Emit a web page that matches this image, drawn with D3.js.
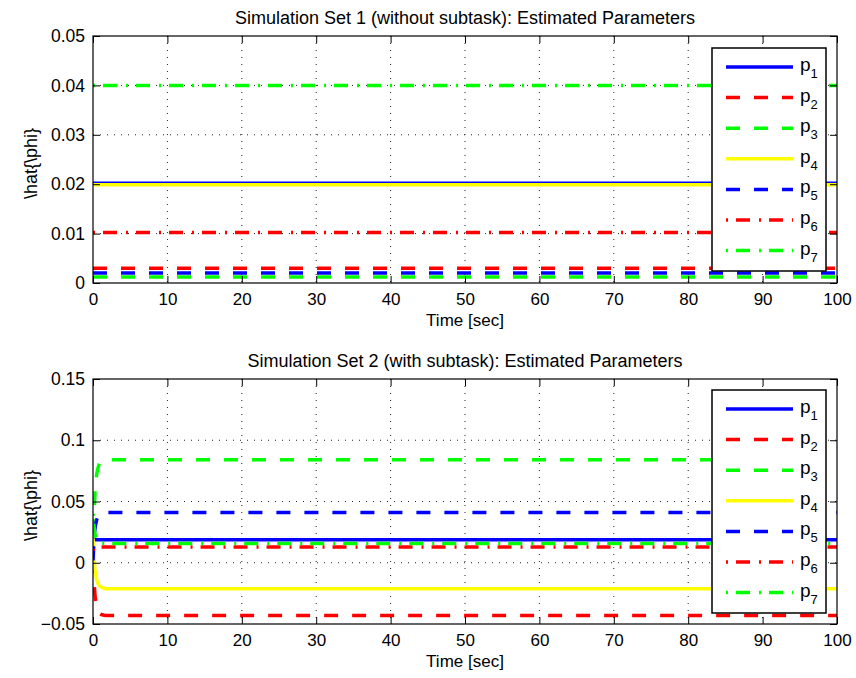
<!DOCTYPE html>
<html><head><meta charset="utf-8">
<script src="https://cdn.jsdelivr.net/npm/d3@7"></script>
<style>body{margin:0;background:#fff;} text{font-family:"Liberation Sans",Arial,sans-serif;}</style>
</head><body><svg id="c" width="856" height="678"></svg>
<script>
// ---- data ----
const seriesNames = ["1","2","3","4","5","6","7"];
const seriesColors = ["#0000ff","#ff0000","#00ff00","#ffff00","#0000ff","#ff0000","#00ff00"];
const seriesStyles = ["solid","dash","dash","solid","dash","dashdot","dashdot"];
const xTicks = [0,10,20,30,40,50,60,70,80,90,100];
const yTicks1 = [0,0.01,0.02,0.03,0.04,0.05];
const yTicks2 = [-0.05,0,0.05,0.1,0.15];
// Plot 1: parameter estimates stay constant
const time1 = [0,100];
const p1_set1 = [0.0202,0.0202];
const p2_set1 = [0.0030,0.0030];
const p3_set1 = [0.0012,0.0012];
const p4_set1 = [0.0199,0.0199];
const p5_set1 = [0.0020,0.0020];
const p6_set1 = [0.0102,0.0102];
const p7_set1 = [0.0400,0.0400];
// Plot 2: fast transient then constant
const time2 = [0,0.1,0.25,0.5,0.75,1,1.5,2,100];
const p1_set2 = [0.0202,0.0195,0.019,0.0188,0.0188,0.0188,0.0188,0.0188,0.0188];
const p2_set2 = [0.003,-0.010,-0.025,-0.036,-0.040,-0.0418,-0.0428,-0.043,-0.043];
const p3_set2 = [0.0012,0.030,0.055,0.072,0.079,0.082,0.0838,0.084,0.084];
const p4_set2 = [0.0199,0.008,-0.005,-0.014,-0.018,-0.0197,-0.0208,-0.0212,-0.0212];
const p5_set2 = [0.002,0.015,0.027,0.035,0.038,0.0400,0.0408,0.041,0.041];
const p6_set2 = [0.0102,0.0115,0.0123,0.0127,0.0128,0.0128,0.0128,0.0128,0.0128];
const p7_set2 = [0.040,0.032,0.024,0.019,0.0172,0.0164,0.0159,0.0158,0.0158];

const set1 = [p1_set1,p2_set1,p3_set1,p4_set1,p5_set1,p6_set1,p7_set1];
const set2 = [p1_set2,p2_set2,p3_set2,p4_set2,p5_set2,p6_set2,p7_set2];

const svg = d3.select("#c");
const dashes = {solid:null, dash:"14,14", dashdot:"2,8,14,9"};
const fmt = v => (v<0?"\u2212":"") + String(+Math.abs(v).toFixed(3));

function panel(cfg){
  const L=93, R=837, T=cfg.top, B=cfg.bottom;
  const x = d3.scaleLinear().domain([0,100]).range([L,R]);
  const y = d3.scaleLinear().domain(cfg.ydom).range([B,T]);
  const g = svg.append("g");
  const cid = "clip"+cfg.id;
  g.append("clipPath").attr("id",cid).append("rect").attr("x",L).attr("y",T).attr("width",R-L).attr("height",B-T);
  // grid
  g.append("g").selectAll("line").data(xTicks.slice(1,-1)).join("line")
    .attr("x1",d=>x(d)).attr("x2",d=>x(d)).attr("y1",T).attr("y2",B)
    .attr("stroke","#222").attr("stroke-width",1).attr("stroke-dasharray","1,6");
  g.append("g").selectAll("line").data(cfg.yticks.slice(1,-1)).join("line")
    .attr("y1",d=>y(d)).attr("y2",d=>y(d)).attr("x1",L).attr("x2",R)
    .attr("stroke","#222").attr("stroke-width",1).attr("stroke-dasharray","1,6");
  // lines
  const line = d3.line().x(d=>x(d[0])).y(d=>y(d[1])).curve(d3.curveMonotoneX);
  const lg = g.append("g").attr("clip-path",`url(#${cid})`);
  cfg.data.forEach((vals,i)=>{
    lg.append("path").datum(cfg.time.map((t,k)=>[t,vals[k]]))
      .attr("d",line).attr("fill","none").attr("stroke",seriesColors[i])
      .attr("stroke-width",3.5).attr("stroke-dasharray",dashes[seriesStyles[i]]);
  });
  // axes (MATLAB style box with inward ticks)
  const tl = 7;
  g.append("g").attr("transform",`translate(0,${B})`)
    .call(d3.axisBottom(x).tickValues(xTicks).tickSize(-tl).tickPadding(10).tickFormat(d3.format("d")))
    .call(s=>{s.select(".domain").remove(); s.selectAll("text").attr("font-size",17).attr("fill","#000");});
  g.append("g").attr("transform",`translate(0,${T})`)
    .call(d3.axisTop(x).tickValues(xTicks).tickSize(-tl).tickFormat(""))
    .call(s=>s.select(".domain").remove());
  g.append("g").attr("transform",`translate(${L},0)`)
    .call(d3.axisLeft(y).tickValues(cfg.yticks).tickSize(-tl).tickPadding(8).tickFormat(fmt))
    .call(s=>{s.select(".domain").remove(); s.selectAll("text").attr("font-size",17.5).attr("fill","#000");});
  g.append("g").attr("transform",`translate(${R},0)`)
    .call(d3.axisRight(y).tickValues(cfg.yticks).tickSize(-tl).tickFormat(""))
    .call(s=>s.select(".domain").remove());
  g.selectAll(".tick line").attr("stroke","#000");
  g.append("rect").attr("x",L).attr("y",T).attr("width",R-L).attr("height",B-T)
    .attr("fill","none").attr("stroke","#000").attr("stroke-width",1.2);
  // labels
  g.append("text").attr("x",(L+R)/2).attr("y",T-12).attr("text-anchor","middle").attr("font-size",18).text(cfg.title);
  g.append("text").attr("x",(L+R)/2).attr("y",B+43).attr("text-anchor","middle").attr("font-size",17).text("Time [sec]");
  g.append("text").attr("transform",`translate(37,${(T+B)/2+4}) rotate(-90)`).attr("text-anchor","middle").attr("font-size",18).text("\\hat{\\phi}");
  // legend
  const lx=712, ly=cfg.legTop, lw=114, lh=223;
  const leg = g.append("g");
  leg.append("rect").attr("x",lx).attr("y",ly).attr("width",lw).attr("height",lh)
    .attr("fill","#fff").attr("stroke","#000").attr("stroke-width",1.5);
  seriesNames.forEach((n,i)=>{
    const yy = ly+19+i*30.6;
    leg.append("line").attr("x1",lx+14).attr("x2",lx+81).attr("y1",yy).attr("y2",yy)
      .attr("stroke",seriesColors[i]).attr("stroke-width",3.5).attr("stroke-dasharray",dashes[seriesStyles[i]]);
    const t = leg.append("text").attr("x",lx+88).attr("y",yy+4).attr("font-size",19);
    t.append("tspan").text("p");
    t.append("tspan").attr("font-size",13).attr("dy",7).text(n);
  });
}

panel({id:1, top:36, bottom:283, ydom:[0,0.05], yticks:yTicks1, time:time1, data:set1,
  title:"Simulation Set 1 (without subtask): Estimated Parameters", legTop:48});
panel({id:2, top:379, bottom:624, ydom:[-0.05,0.15], yticks:yTicks2, time:time2, data:set2,
  title:"Simulation Set 2 (with subtask): Estimated Parameters", legTop:390});
</script></body></html>
